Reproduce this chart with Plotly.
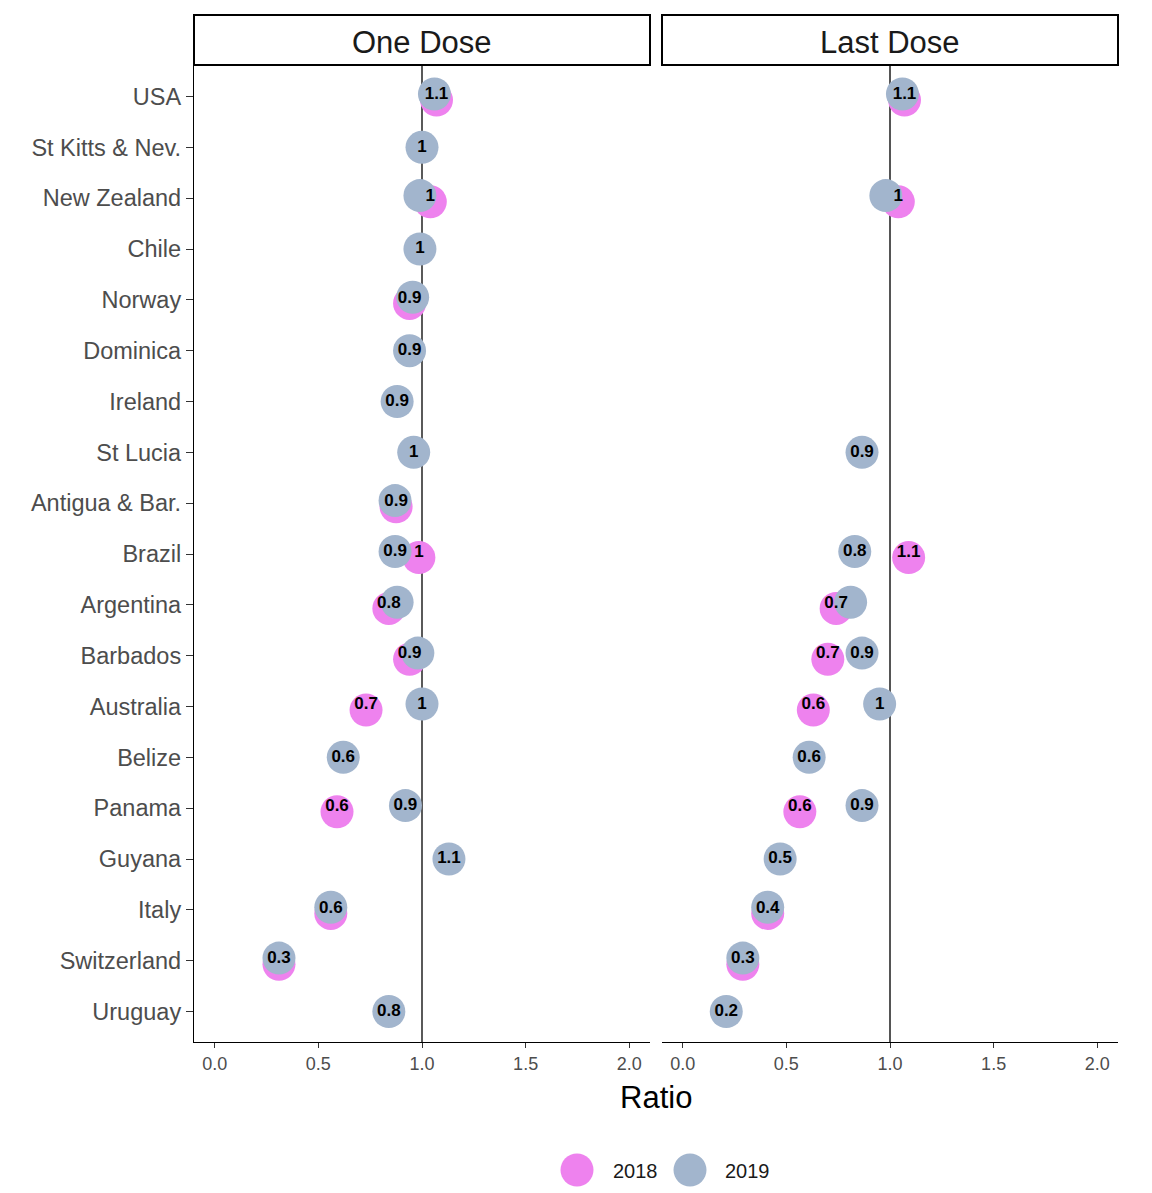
import plotly.graph_objects as go

countries = ["USA", "St Kitts & Nev.", "New Zealand", "Chile", "Norway", "Dominica",
             "Ireland", "St Lucia", "Antigua & Bar.", "Brazil", "Argentina", "Barbados",
             "Australia", "Belize", "Panama", "Guyana", "Italy", "Switzerland", "Uruguay"]

one_2018 = [1.07, None, 1.04, None, 0.94, None, None, None, 0.875, 0.985, 0.84, 0.94,
            0.73, None, 0.59, None, 0.56, 0.31, None]
one_2019 = [1.06, 1.0, 0.99, 0.99, 0.955, 0.94, 0.88, 0.96, 0.87, 0.87, 0.88, 0.98,
            1.0, 0.62, 0.92, 1.13, 0.56, 0.31, 0.84]
last_2018 = [1.07, None, 1.04, None, None, None, None, None, None, 1.09, 0.74, 0.70,
             0.63, None, 0.565, None, 0.41, 0.29, None]
last_2019 = [1.06, None, 0.98, None, None, None, None, 0.865, None, 0.83, 0.81, 0.865,
             0.95, 0.61, 0.865, 0.47, 0.41, 0.29, 0.21]

panels = ["One Dose", "Last Dose"]
x_ticks = [0.0, 0.5, 1.0, 1.5, 2.0]

C2018 = "#EE82EE"
C2019 = "#A2B5CD"

fig = go.Figure()

LABEL_FONT = dict(family="Liberation Sans", size=17, color="black", weight="bold")


def build(v18, v19, xa, ya):
    n = len(countries)
    y18, x18, ly18, t18 = [], [], [], []
    y19, x19, ly19, t19 = [], [], [], []
    for i in range(n):
        a, b = v18[i], v19[i]
        both = a is not None and b is not None
        if a is not None:
            x18.append(a)
            y18.append(i + (0.07 if both else 0))
            ly18.append(i - (0.03 if both else 0))
            t18.append(f"{round(a + 1e-9, 1):g}")
        if b is not None:
            x19.append(b)
            y19.append(i - (0.05 if both else 0))
            ly19.append(i - (0.04 if both else 0))
            # hide overlapping label (check_overlap behaviour)
            t19.append("" if both and abs(a - b) < 0.1 else f"{round(b + 1e-9, 1):g}")
    fig.add_trace(go.Scatter(x=x18, y=y18, mode="markers", name="2018",
                             marker=dict(color=C2018, size=33, line=dict(width=0)),
                             xaxis=xa, yaxis=ya, showlegend=False, cliponaxis=False))
    fig.add_trace(go.Scatter(x=x19, y=y19, mode="markers", name="2019",
                             marker=dict(color=C2019, size=33, line=dict(width=0)),
                             xaxis=xa, yaxis=ya, showlegend=False, cliponaxis=False))
    fig.add_trace(go.Scatter(x=x18, y=ly18, mode="text", text=t18, textfont=LABEL_FONT,
                             xaxis=xa, yaxis=ya, showlegend=False, hoverinfo="skip", cliponaxis=False))
    fig.add_trace(go.Scatter(x=x19, y=ly19, mode="text", text=t19, textfont=LABEL_FONT,
                             xaxis=xa, yaxis=ya, showlegend=False, hoverinfo="skip", cliponaxis=False))


build(one_2018, one_2019, "x", "y")
build(last_2018, last_2019, "x2", "y2")

# the page body adds an 8px offset; coordinates below are window pixels
OFF = 8
W, H = 1152 - OFF, 1193 - OFF
PL, PR, PT, PB = 194, 1118, 66, 1042          # plot area in window pixels
ml, mt = PL - OFF, PT - OFF
mr = W - (PR - OFF)
mb = H - (PB - OFF)
pw, ph = PR - PL, PB - PT
d1 = [0, (650 - PL) / pw]
d2 = [(662 - PL) / pw, 1]


def px_x(p):
    return (p - PL) / pw


def px_y(p):
    return (PB - p) / ph


xcommon = dict(range=[-0.1, 2.1], tickvals=x_ticks, tickformat=".1f", ticks="outside",
               ticklen=5, tickcolor="#333333", tickwidth=1, showline=True, linecolor="black",
               linewidth=1.3, showgrid=False, zeroline=False,
               tickfont=dict(family="Liberation Sans", size=18, color="#4D4D4D"))
ycommon = dict(range=[len(countries) - 1 + 0.6, -0.6], tickvals=list(range(len(countries))),
               ticktext=countries, showgrid=False, zeroline=False)

fig.update_layout(
    width=W, height=H,
    margin=dict(l=ml, r=mr, t=mt, b=mb),
    paper_bgcolor="white", plot_bgcolor="white",
    xaxis=dict(domain=d1, anchor="y", **xcommon),
    xaxis2=dict(domain=d2, anchor="y2", **xcommon),
    yaxis=dict(anchor="x", ticks="outside", ticklen=7, tickcolor="#333333", showline=True,
               linecolor="black", linewidth=1.3,
               tickfont=dict(family="Liberation Sans", size=23.5, color="#4D4D4D"), **ycommon),
    yaxis2=dict(anchor="x2", showticklabels=False, ticks="", showline=False, **ycommon),
    showlegend=False,
)

# reference lines at ratio 1
fig.add_shape(type="line", xref="x", yref="y domain", x0=1, x1=1, y0=0, y1=1,
              line=dict(color="black", width=1.3), layer="below")
fig.add_shape(type="line", xref="x2", yref="y2 domain", x0=1, x1=1, y0=0, y1=1,
              line=dict(color="#555555", width=2), layer="below")

# facet strips
for dom, title in zip([d1, d2], panels):
    fig.add_shape(type="rect", xref="paper", yref="paper", x0=dom[0], x1=dom[1],
                  y0=px_y(65), y1=px_y(15), line=dict(color="black", width=2), fillcolor="white")
    fig.add_annotation(xref="paper", yref="paper", x=(dom[0] + dom[1]) / 2, y=px_y(42),
                       text=title, showarrow=False, xanchor="center", yanchor="middle",
                       font=dict(family="Liberation Sans", size=31, color="#1A1A1A"))

# axis title
fig.add_annotation(xref="paper", yref="paper", x=px_x(656), y=px_y(1097),
                   text="Ratio", showarrow=False, xanchor="center", yanchor="middle",
                   font=dict(family="Liberation Sans", size=31, color="black"))

# legend (drawn manually to keep large keys)
r = 16.5
for cx, col, lab, tx in [(577, C2018, "2018", 611), (690, C2019, "2019", 723)]:
    fig.add_shape(type="circle", xref="paper", yref="paper",
                  x0=px_x(cx - r), x1=px_x(cx + r), y0=px_y(1170 + r), y1=px_y(1170 - r),
                  fillcolor=col, line=dict(width=0))
    fig.add_annotation(xref="paper", yref="paper", x=px_x(tx), y=px_y(1171), text=lab,
                       showarrow=False, xanchor="left", yanchor="middle",
                       font=dict(family="Liberation Sans", size=20, color="#1A1A1A"))

fig.write_html("out.html")
